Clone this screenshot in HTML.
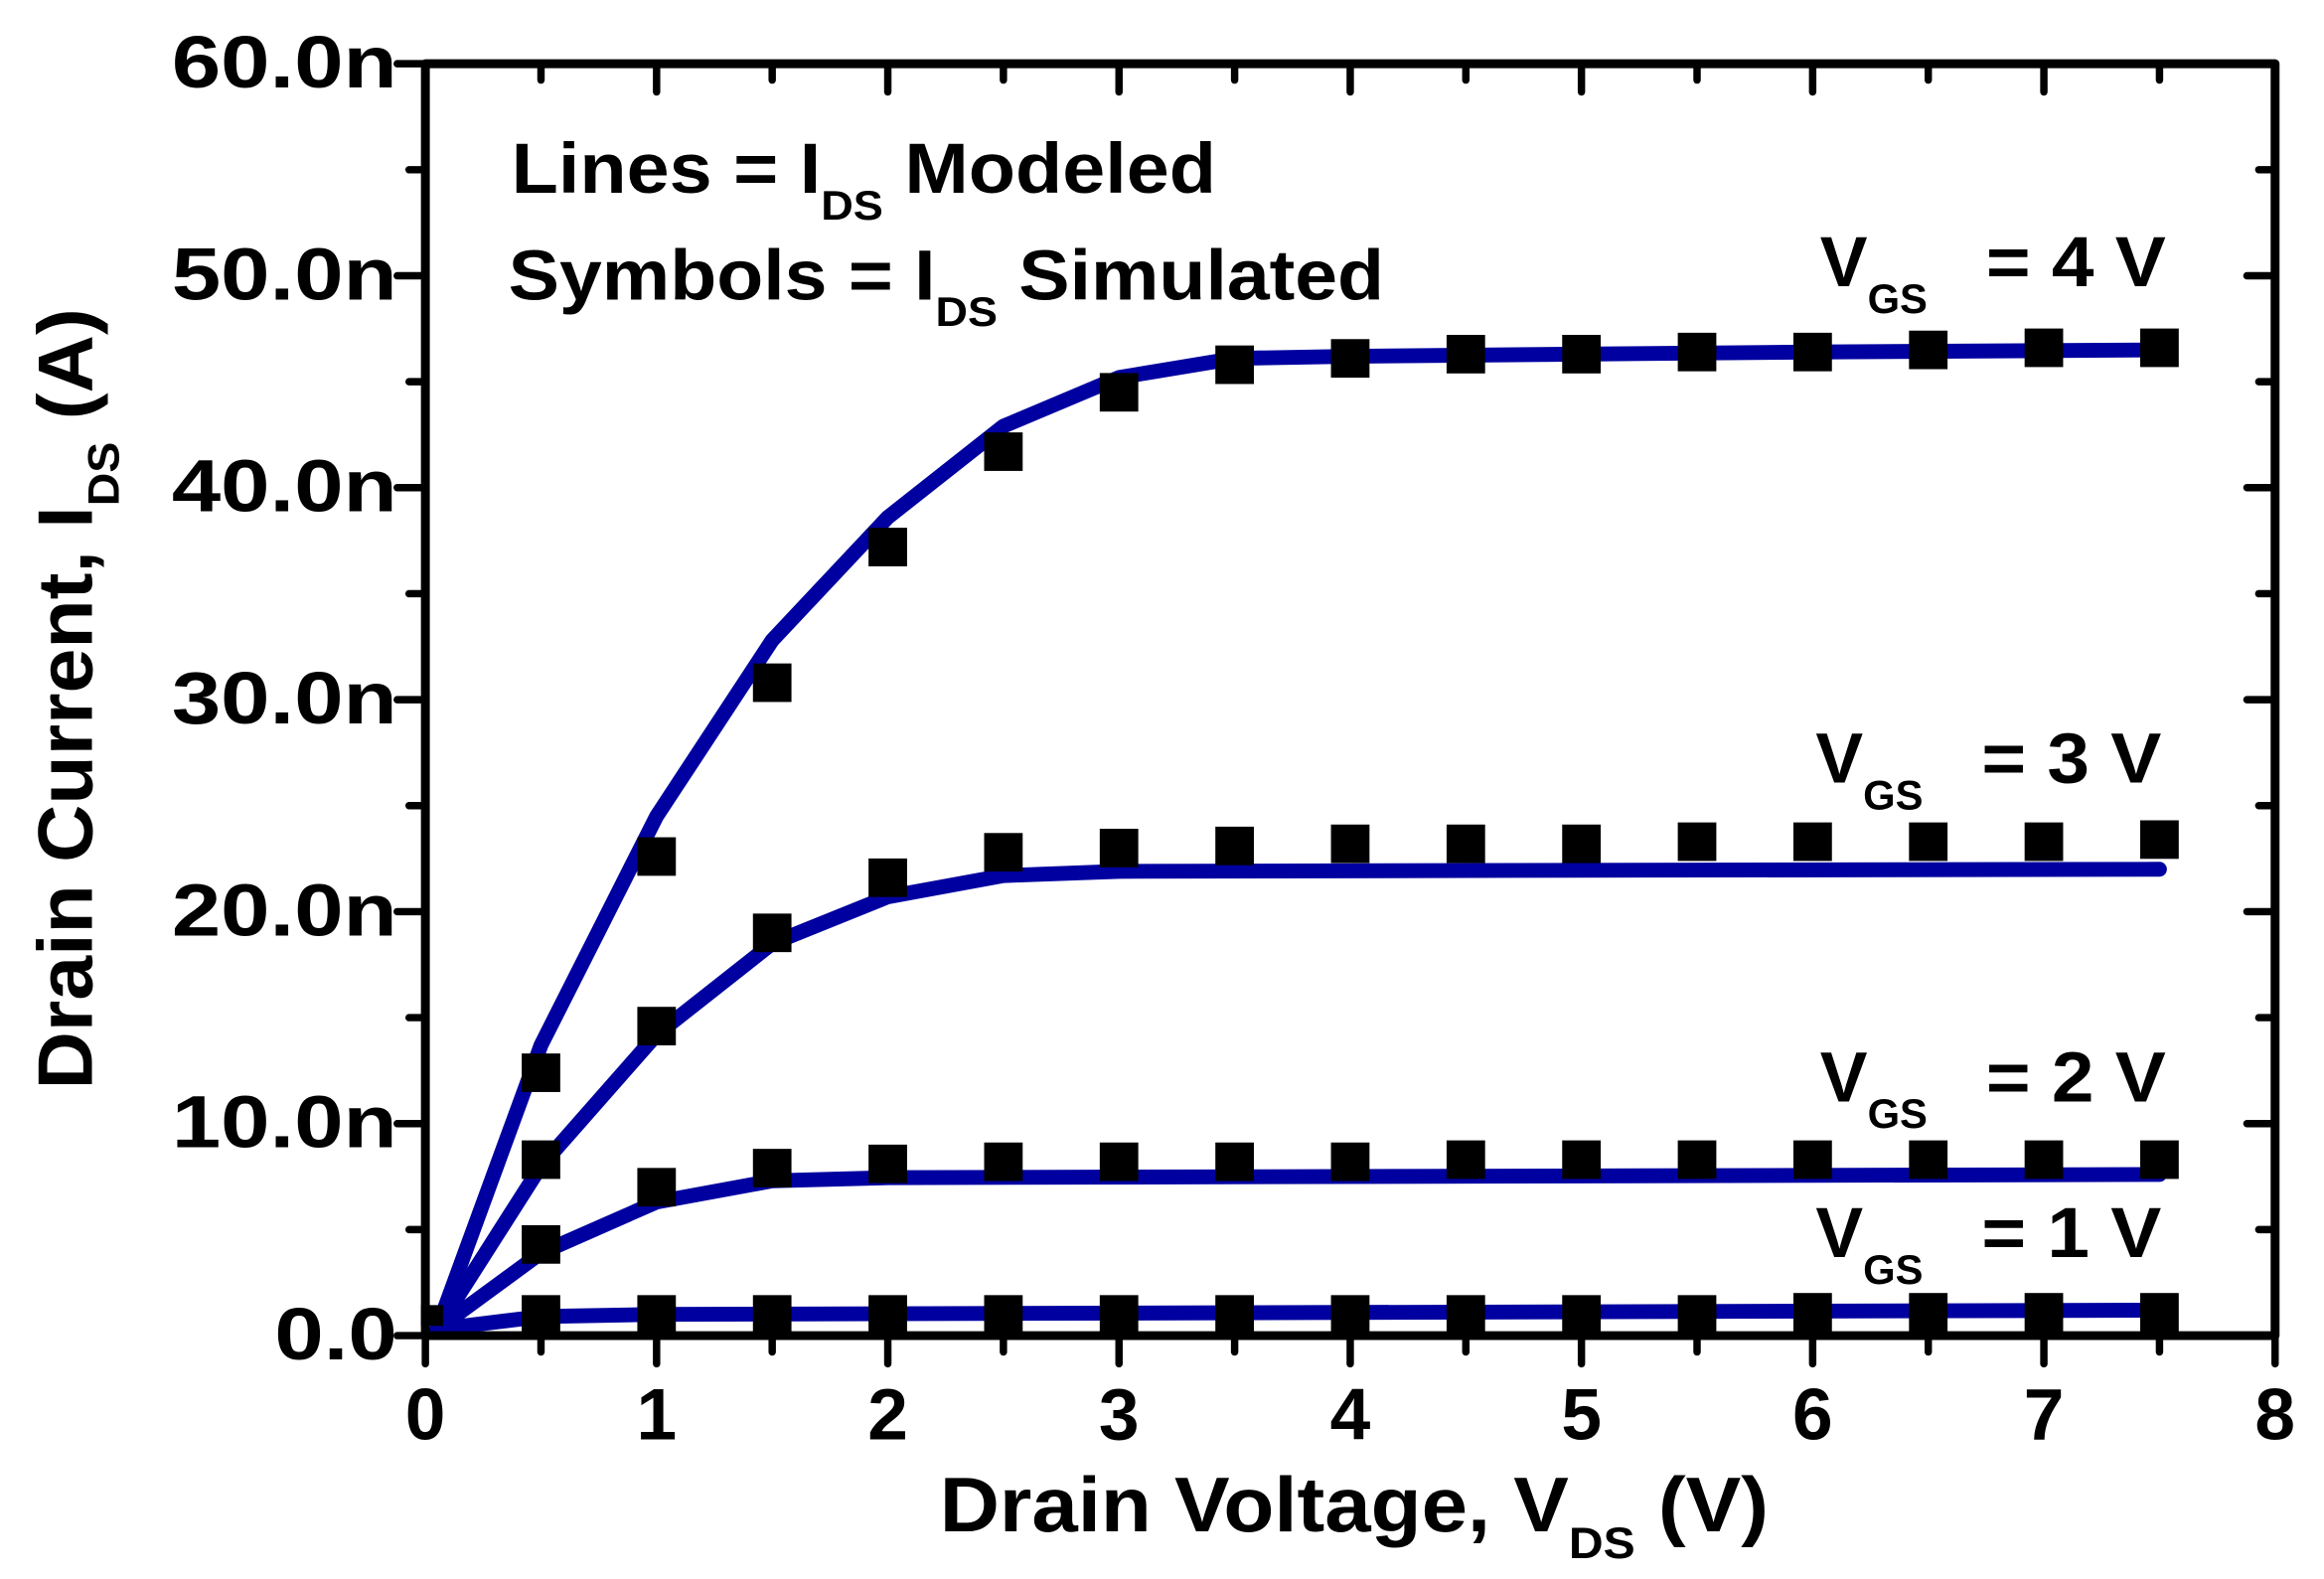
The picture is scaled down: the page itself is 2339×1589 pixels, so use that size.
<!DOCTYPE html>
<html><head><meta charset="utf-8"><style>
html,body{margin:0;padding:0;background:#fff;}
svg{display:block;}
text{font-family:"Liberation Sans",Arial,sans-serif;font-weight:bold;fill:#000;}
</style></head><body>
<svg width="2339" height="1589" viewBox="0 0 1568 1065.2" preserveAspectRatio="none" xmlns="http://www.w3.org/2000/svg">
<rect width="1568" height="1066" fill="#fff"/>
<g id="plot"></g>
<rect x="287" y="43" width="1248" height="858" fill="none" stroke="#000" stroke-width="6" stroke-linejoin="round"/>
<g stroke="#000" stroke-width="5" stroke-linecap="round" id="ticks"></g>
<g font-size="50" text-anchor="end" transform="translate(268 0) scale(1.19 1) translate(-268 0)">
<text x="268" y="917">0.0</text>
<text x="268" y="774">10.0n</text>
<text x="268" y="631">20.0n</text>
<text x="268" y="488">30.0n</text>
<text x="268" y="345">40.0n</text>
<text x="268" y="202">50.0n</text>
<text x="268" y="59">60.0n</text>
</g>
<g font-size="49" text-anchor="middle">
<text x="287" y="971">0</text><text x="443" y="971">1</text><text x="599" y="971">2</text>
<text x="755" y="971">3</text><text x="911" y="971">4</text><text x="1067" y="971">5</text>
<text x="1223" y="971">6</text><text x="1379" y="971">7</text><text x="1535" y="971">8</text>
</g>
<g transform="translate(634 0) scale(1.075 1) translate(-634 0)">
<text x="634" y="1033" font-size="52">Drain Voltage, V<tspan font-size="30" dy="18">DS</tspan><tspan dy="-18"> (V)</tspan></text>
</g>
<g transform="translate(62,735) rotate(-90) scale(1.04 1)">
<text x="0" y="0" font-size="52">Drain Current, I<tspan font-size="30" dy="18">DS</tspan><tspan dy="-18"> (A)</tspan></text>
</g>
<g transform="translate(345 0) scale(1.08 1) translate(-345 0)">
<text x="345" y="130" font-size="48">Lines = I<tspan font-size="28" dy="18">DS</tspan><tspan dy="-18"> Modeled</tspan></text>
</g>
<g transform="translate(343 0) scale(1.075 1) translate(-343 0)">
<text x="343" y="202" font-size="48">Symbols = I<tspan font-size="28" dy="18">DS</tspan><tspan dy="-18"> Simulated</tspan></text>
</g>
<g font-size="48">
<text x="1228" y="193">V<tspan font-size="28" dy="18">GS</tspan></text>
<text x="1340" y="193" transform="translate(1340 0) scale(1.07 1) translate(-1340 0)">= 4 V</text>
<text x="1225" y="528">V<tspan font-size="28" dy="18">GS</tspan></text>
<text x="1337" y="528" transform="translate(1337 0) scale(1.07 1) translate(-1337 0)">= 3 V</text>
<text x="1228" y="743">V<tspan font-size="28" dy="18">GS</tspan></text>
<text x="1340" y="743" transform="translate(1340 0) scale(1.07 1) translate(-1340 0)">= 2 V</text>
<text x="1225" y="848">V<tspan font-size="28" dy="18">GS</tspan></text>
<text x="1337" y="848" transform="translate(1337 0) scale(1.07 1) translate(-1337 0)">= 1 V</text>
</g>
<script>
const X=v=>287+156*v, Y=n=>901-14.3*n, NS="http://www.w3.org/2000/svg";
const plot=document.getElementById('plot'), tk=document.getElementById('ticks');
function el(p,tag,a){const e=document.createElementNS(NS,tag);for(const k in a)e.setAttribute(k,a[k]);p.appendChild(e);return e;}
for(let i=0;i<=16;i++){const x=X(i*0.5),maj=i%2==0,L=maj?19:11;
 el(tk,'line',{x1:x,y1:901,x2:x,y2:901+L}); el(tk,'line',{x1:x,y1:43,x2:x,y2:43+L});}
for(let i=0;i<=12;i++){const y=Y(i*5),maj=i%2==0,L=maj?19:11;
 el(tk,'line',{x1:287,y1:y,x2:287-L,y2:y}); el(tk,'line',{x1:1535,y1:y,x2:1535-L,y2:y});}
const lines=[
 [[0.05,0.3],[0.5,13.7],[1,24.5],[1.5,32.8],[2,38.6],[2.5,42.9],[3,45.2],[3.5,46.1],[4,46.2],[5,46.3],[6,46.4],[7.5,46.5]],
 [[0.05,0.3],[0.5,8],[1,14.2],[1.5,18.5],[2,20.7],[2.5,21.7],[3,21.9],[5,21.95],[7.5,22.0]],
 [[0.05,0.3],[0.5,3.9],[1,6.3],[1.5,7.3],[2,7.45],[7.5,7.6]],
 [[0.05,0.3],[0.5,0.9],[1,1.0],[7.5,1.2]]];
const syms=[
 [12.4,22.6,30.8,37.2,41.7,44.5,45.8,46.1,46.3,46.3,46.4,46.4,46.5,46.6,46.6],
 [8.3,14.6,19.0,21.6,22.8,23.0,23.1,23.2,23.2,23.2,23.3,23.3,23.3,23.3,23.4],
 [4.3,7.0,7.9,8.1,8.2,8.2,8.2,8.2,8.3,8.3,8.3,8.3,8.3,8.3,8.3],
 [1.0,1.0,1.0,1.0,1.0,1.0,1.0,1.0,1.0,1.0,1.0,1.1,1.1,1.1,1.1]];
lines.forEach(l=>el(plot,'polyline',{points:l.map(p=>X(p[0])+','+Y(p[1])).join(' '),fill:'none',stroke:'#0000a0','stroke-width':10,'stroke-linejoin':'round','stroke-linecap':'round'}));
el(plot,'rect',{x:X(0)-3,y:Y(0.6)-12,width:15,height:14,fill:'#000'});
syms.forEach(s=>s.forEach((v,i)=>el(plot,'rect',{x:X((i+1)*0.5)-13,y:Y(v)-13,width:26,height:26,fill:'#000'})));
</script>
</svg>
</body></html>
